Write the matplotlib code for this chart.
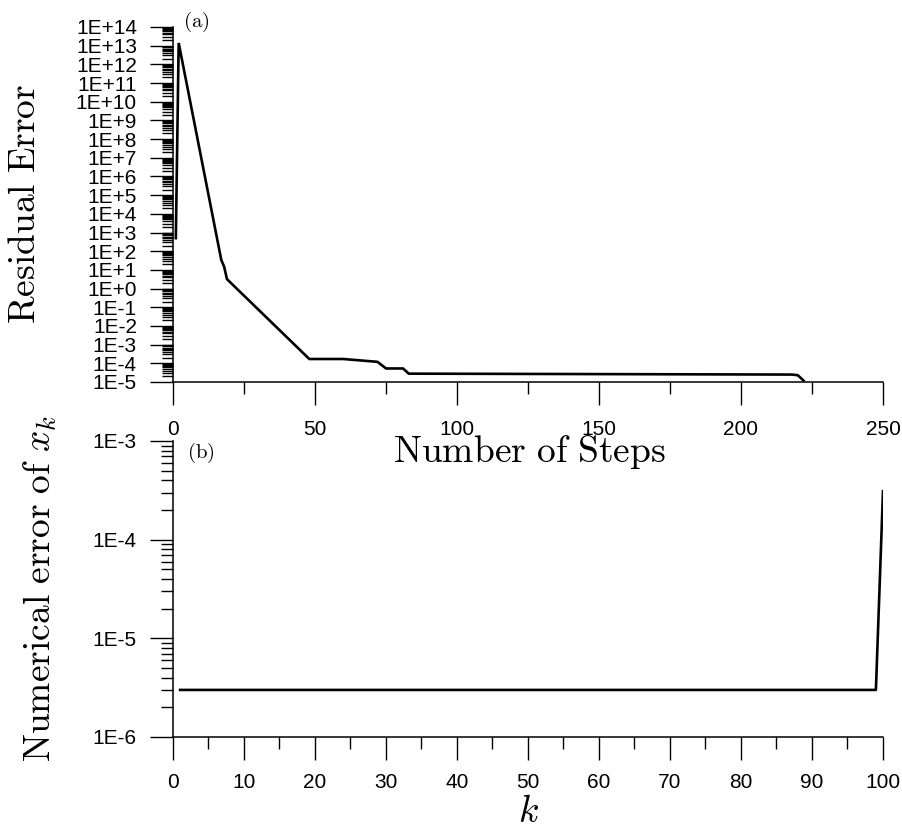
import numpy as np
import matplotlib
matplotlib.use('Agg')
import matplotlib.pyplot as plt
from matplotlib.ticker import FixedLocator, FuncFormatter, MultipleLocator, NullFormatter

plt.rcParams['mathtext.fontset'] = 'cm'
plt.rcParams['font.family'] = ['Liberation Sans', 'DejaVu Sans']

# ---- data: panel (a) residual error vs number of steps (vertices) ----
steps = [1, 2, 17, 18, 19, 48, 60, 72, 75, 81, 83, 218, 220, 222]
residual = [5e2, 1.4e13, 3.4e1, 1.5e1, 3.2e0, 1.7e-4, 1.7e-4, 1.2e-4,
            5.3e-5, 5.3e-5, 2.8e-5, 2.5e-5, 2.3e-5, 1.2e-5]

# ---- data: panel (b) numerical error of x_k ----
k_vals = [1, 99, 100]
num_err = [3.0e-6, 3.0e-6, 3.1e-4]

top_exponents = list(range(-5, 15))
bot_exponents = list(range(-6, -2))
top_xticks = [0, 50, 100, 150, 200, 250]
bot_xticks = [0, 10, 20, 30, 40, 50, 60, 70, 80, 90, 100]

W, H = 903, 831
fig = plt.figure(figsize=(W / 100, H / 100), dpi=100)

def frac(l, t, r, b):
    return [l / W, 1 - b / H, (r - l) / W, (b - t) / H]

ax1 = fig.add_axes(frac(173, 27, 883, 382))
ax2 = fig.add_axes(frac(173, 441, 883, 737))

def minor_locs(exps):
    locs = []
    for e in exps[:-1]:
        for m in range(2, 10):
            locs.append(m * 10.0 ** e)
    return locs

def efmt(v, pos):
    e = int(round(np.log10(v)))
    return f"1E{e:+d}"

for ax in (ax1, ax2):
    for s in ('top', 'right'):
        ax.spines[s].set_visible(False)
    for s in ('left', 'bottom'):
        ax.spines[s].set_linewidth(1.1)
    ax.set_yscale('log')
    ax.tick_params(axis='both', which='major', direction='out', length=16.5,
                   width=1.0, labelsize=15)
    ax.tick_params(axis='both', which='minor', direction='out', length=8.5,
                   width=1.0)
    ax.tick_params(axis='y', which='major', pad=9.5)

# panel (a)
ax1.plot(steps, residual, color='black', lw=1.9, solid_joinstyle='miter')
ax1.set_xlim(0, 250)
ax1.set_ylim(1e-5, 1e14)
ax1.yaxis.set_major_locator(FixedLocator([10.0 ** e for e in top_exponents]))
ax1.yaxis.set_minor_locator(FixedLocator(minor_locs(top_exponents)))
ax1.yaxis.set_major_formatter(FuncFormatter(efmt))
ax1.yaxis.set_minor_formatter(NullFormatter())
ax1.xaxis.set_major_locator(FixedLocator(top_xticks))
ax1.xaxis.set_minor_locator(MultipleLocator(25))
ax1.tick_params(axis='x', which='major', pad=11)
ax1.tick_params(axis='y', which='minor', length=8)

# panel (b)
ax2.plot(k_vals, num_err, color='black', lw=1.9)
ax2.set_xlim(0, 100)
ax2.set_ylim(1e-6, 1e-3)
ax2.yaxis.set_major_locator(FixedLocator([10.0 ** e for e in bot_exponents]))
ax2.yaxis.set_minor_locator(FixedLocator(minor_locs(bot_exponents)))
ax2.yaxis.set_major_formatter(FuncFormatter(efmt))
ax2.yaxis.set_minor_formatter(NullFormatter())
ax2.xaxis.set_major_locator(FixedLocator(bot_xticks))
ax2.xaxis.set_minor_locator(MultipleLocator(5))
ax2.tick_params(axis='x', which='major', pad=9.5)

for ax in (ax1, ax2):
    for lab in ax.get_xticklabels() + ax.get_yticklabels():
        lab.set_fontfamily('Liberation Sans')

# labels
fig.text(25 / W, 1 - 204 / H, r'$\mathrm{Residual\ Error}$', rotation=90,
         ha='center', va='center', fontsize=27)
fig.text(529 / W, 1 - 452 / H, r'$\mathrm{Number\ of\ Steps}$',
         ha='center', va='center', fontsize=27)
fig.text(40 / W, 1 - 589 / H, r'$\mathrm{Numerical\ error\ of\ }x_k$', rotation=90,
         ha='center', va='center', fontsize=27)
fig.text(528 / W, 1 - 812 / H, r'$k$', ha='center', va='center', fontsize=27)
fig.text(196 / W, 1 - 22 / H, r'$\mathrm{(a)}$', ha='center', va='center', fontsize=15)
fig.text(201 / W, 1 - 453 / H, r'$\mathrm{(b)}$', ha='center', va='center', fontsize=15)

fig.savefig('out.png', dpi=100)
